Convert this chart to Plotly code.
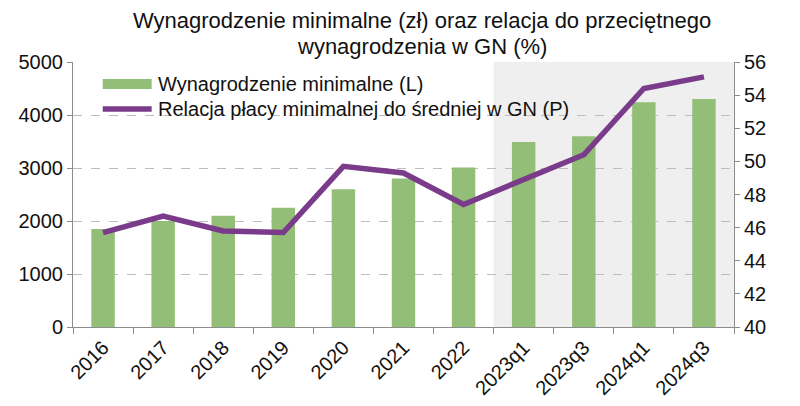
import plotly.graph_objects as go

categories = ["2016", "2017", "2018", "2019", "2020", "2021", "2022",
              "2023q1", "2023q3", "2024q1", "2024q3"]
min_wage = [1850, 2000, 2100, 2250, 2600, 2800, 3010, 3490, 3600, 4242, 4300]
ratio_pct = [45.7, 46.7, 45.8, 45.7, 49.7, 49.3, 47.4, 48.9, 50.4, 54.4, 55.1]
left_ticks = [0, 1000, 2000, 3000, 4000, 5000]
right_ticks = [40, 42, 44, 46, 48, 50, 52, 54, 56]
shade_from = "2023q1"
title_lines = ["Wynagrodzenie minimalne (zł) oraz relacja do przeciętnego",
               "wynagrodzenia w GN (%)"]

GREEN = "#93BE77"
PURPLE = "#7A3B8A"
FONT = "Liberation Sans, Arial, sans-serif"
TXT = "#111111"

fig = go.Figure()
fig.add_trace(go.Bar(x=categories, y=min_wage, name="Wynagrodzenie minimalne (L)",
                     marker=dict(color=GREEN, line=dict(width=0)), width=0.39,
                     yaxis="y"))
fig.add_trace(go.Scatter(x=categories, y=ratio_pct, name="Relacja płacy minimalnej do średniej w GN (P)",
                         mode="lines", line=dict(color=PURPLE, width=5.5), yaxis="y2"))

idx = categories.index(shade_from)
fig.add_shape(type="rect", xref="x", yref="paper", x0=idx - 0.5, x1=len(categories) - 0.5,
              y0=0, y1=1, fillcolor="#EFEFEF", line=dict(width=0), layer="below")

# custom legend
fig.add_shape(type="rect", xref="paper", yref="paper", x0=0.045, x1=0.119, y0=0.898, y1=0.936,
              fillcolor=GREEN, line=dict(width=0))
fig.add_shape(type="line", xref="paper", yref="paper", x0=0.045, x1=0.119, y0=0.823, y1=0.823,
              line=dict(color=PURPLE, width=5.5))
fig.add_annotation(xref="paper", yref="paper", x=0.125, y=0.917, xanchor="left", yanchor="middle",
                   text="Wynagrodzenie minimalne (L)", showarrow=False,
                   font=dict(size=20, color=TXT, family=FONT))
fig.add_annotation(xref="paper", yref="paper", x=0.125, y=0.823, xanchor="left", yanchor="middle",
                   text="Relacja płacy minimalnej do średniej w GN (P)", showarrow=False,
                   font=dict(size=20, color=TXT, family=FONT))

# title (two lines)
fig.add_annotation(xref="paper", yref="paper", x=0.528, y=1.158, xanchor="center", yanchor="middle",
                   text=title_lines[0], showarrow=False, font=dict(size=22, color=TXT, family=FONT))
fig.add_annotation(xref="paper", yref="paper", x=0.528, y=1.060, xanchor="center", yanchor="middle",
                   text=title_lines[1], showarrow=False, font=dict(size=22, color=TXT, family=FONT))

fig.update_layout(
    width=792, height=398,
    margin=dict(l=65, r=66, t=54, b=79, autoexpand=False),
    paper_bgcolor="white", plot_bgcolor="white",
    showlegend=False,
    font=dict(family=FONT, size=20, color=TXT),
    xaxis=dict(type="category", tickangle=-45, showline=True, linecolor="#8C8C8C", linewidth=1,
               ticks="outside", ticklen=6, tickcolor="#8C8C8C", tickson="boundaries",
               showgrid=False, range=[-0.5, len(categories) - 0.5],
               tickfont=dict(size=20)),
    yaxis=dict(range=[0, 5000], tickvals=left_ticks, showline=True, linecolor="#8C8C8C",
               ticks="outside", ticklen=5, tickcolor="#8C8C8C",
               showgrid=True, gridcolor="#BDBDBD", griddash="dash", gridwidth=1,
               zeroline=False, tickfont=dict(size=20)),
    yaxis2=dict(range=[40, 56], tickvals=right_ticks, overlaying="y", side="right",
                showline=True, linecolor="#8C8C8C", ticks="outside", ticklen=5,
                tickcolor="#8C8C8C", showgrid=False, zeroline=False, tickfont=dict(size=20)),
)

fig.write_html("out.html")
